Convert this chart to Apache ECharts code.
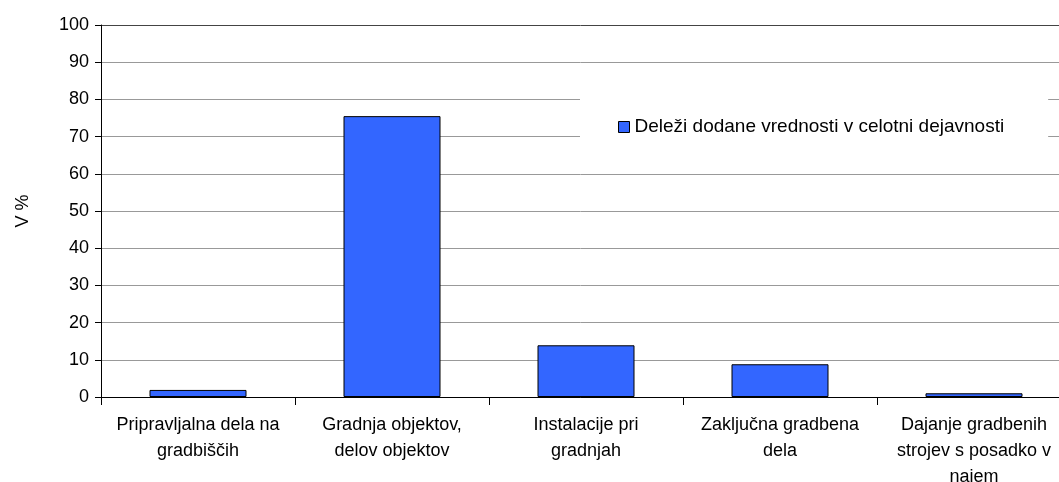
<!DOCTYPE html>
<html>
<head>
<meta charset="utf-8">
<script src="https://cdn.jsdelivr.net/npm/echarts@6/dist/echarts.min.js"></script>
<style>
  html, body { margin: 0; padding: 0; background: #fff; }
  #chart { width: 1059px; height: 482px; }
</style>
</head>
<body>
<div id="chart"></div>
<script>
const categories = [
  'Pripravljalna dela na\ngradbiščih',
  'Gradnja objektov,\ndelov objektov',
  'Instalacije pri\ngradnjah',
  'Zaključna gradbena\ndela',
  'Dajanje gradbenih\nstrojev s posadko v\nnajem'
]
const seriesName = 'Deleži dodane vrednosti v celotni dejavnosti'
const shares = [1.9, 75.5, 13.9, 8.8, 1.0]
const yAxisName = 'V %'

const font = "'Liberation Sans', Arial, sans-serif"

// grid lines gray, the top one (100) darker like the plot frame
const gridColors = ['#444', '#999', '#999', '#999', '#999', '#999', '#999', '#999', '#999', '#999', '#444']

const chart = echarts.init(document.getElementById('chart'), null, { renderer: 'canvas' })
chart.setOption({
  animation: false,
  backgroundColor: '#fff',
  textStyle: { fontFamily: font, color: '#000' },
  grid: { left: 101, top: 25, width: 970, height: 372, containLabel: false, outerBoundsMode: 'none' },
  legend: {
    left: 580,
    top: 95,
    padding: [22, 44, 22, 38],
    backgroundColor: '#fff',
    icon: 'rect',
    itemWidth: 11,
    itemHeight: 11,
    itemGap: 6,
    itemStyle: { borderColor: '#000', borderWidth: 1 },
    textStyle: { fontFamily: font, fontSize: 19, color: '#000', lineHeight: 20 },
    data: [seriesName]
  },
  xAxis: {
    type: 'category',
    data: categories,
    axisLine: { lineStyle: { color: '#000', width: 1 } },
    axisTick: { show: true, alignWithLabel: false, length: 8, lineStyle: { color: '#000' } },
    axisLabel: { interval: 0, fontFamily: font, fontSize: 18, color: '#000', lineHeight: 26, margin: 15 },
    splitLine: { show: false }
  },
  yAxis: {
    type: 'value',
    min: 0,
    max: 100,
    interval: 10,
    name: yAxisName,
    nameLocation: 'middle',
    nameGap: 69,
    nameTextStyle: { fontFamily: font, fontSize: 18, color: '#000' },
    axisLine: { show: true, lineStyle: { color: '#000', width: 1 } },
    axisTick: { show: true, length: 6, lineStyle: { color: '#000' } },
    axisLabel: { fontFamily: font, fontSize: 18, color: '#000', margin: 12 },
    splitLine: { show: true, lineStyle: { color: gridColors, width: 1 } }
  },
  series: [{
    name: seriesName,
    type: 'bar',
    data: shares,
    barWidth: '50%',
    itemStyle: { color: '#3366FF', borderColor: '#000', borderWidth: 1 }
  }]
})
</script>
</body>
</html>
